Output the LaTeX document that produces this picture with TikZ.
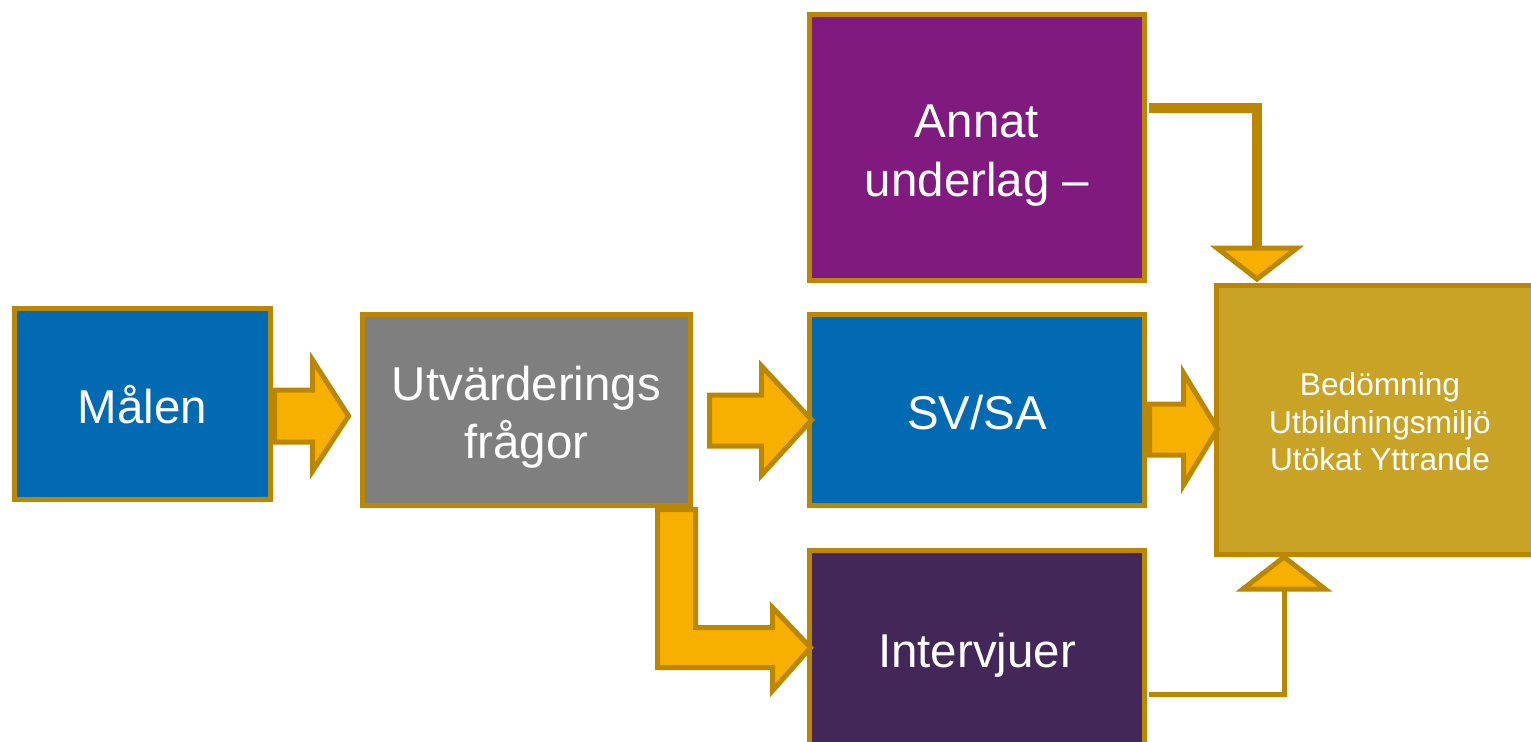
\documentclass[tikz,border=0pt]{standalone}
\usepackage{fontspec}
\setmainfont{Liberation Sans}
\usetikzlibrary{calc}
\definecolor{bord}{RGB}{187,135,0}
\definecolor{arrfill}{RGB}{248,176,0}
\definecolor{cblue}{RGB}{2,106,179}
\definecolor{cgray}{RGB}{127,127,127}
\definecolor{cpurple}{RGB}{128,26,126}
\definecolor{cdark}{RGB}{68,39,89}
\definecolor{cgold}{RGB}{201,163,38}
\begin{document}
\begin{tikzpicture}[x=0.01cm,y=-0.01cm,
  box/.style={draw=bord,line width=1.42pt,inner sep=0pt},
  boxtext/.style={text=white,align=center,inner sep=0pt,
    font=\fontsize{13.5}{16.6}\selectfont},
  smalltext/.style={text=white,align=center,inner sep=0pt,
    font=\fontsize{9}{10.7}\selectfont},
  bigarrow/.style={draw=bord,fill=arrfill,line width=1.42pt,line join=miter},
  link/.style={draw=bord,line join=miter}]
\useasboundingbox (0,0) rectangle (1531,741);
\clip (0,0) rectangle (1531,741);
\fill[white] (0,0) rectangle (1531,741);

\node[box,fill=cblue,minimum width=2.56cm,minimum height=1.91cm] (malen) at (142.5,404) {};
\node[box,fill=cgray,minimum width=3.28cm,minimum height=1.91cm] (utv) at (526.5,410) {};
\node[box,fill=cpurple,minimum width=3.35cm,minimum height=2.66cm] (annat) at (977,147.5) {};
\node[box,fill=cblue,minimum width=3.35cm,minimum height=1.91cm] (svsa) at (977,410) {};
\node[box,fill=cdark,minimum width=3.35cm,minimum height=1.95cm] (interv) at (977,648) {};
\node[box,fill=cgold,minimum width=3.235cm,minimum height=2.69cm] (bed) at (1378,420) {};

\node[boxtext] (malenT) at ($(malen.center)+(0,1)$) {Målen};
\node[boxtext] (utvT) at ($(utv.center)+(0,7)$) {Utvärderings\\frågor};
\node[boxtext] (annatT) at ($(annat.center)+(0,8)$) {Annat\\underlag –};
\node[boxtext] (svsaT) at ($(svsa.center)+(0,3)$) {SV/SA};
\node[boxtext] (intervT) at ($(interv.center)+(0,7)$) {Intervjuer};
\node[smalltext] (bedT) at ($(bed.center)+(2,2)$) {Bedömning\\Utbildningsmiljö\\Utökat Yttrande};

% Målen -> Utvärderingsfrågor
\draw[bigarrow] ($(malen.east)+(1.5,-14)$) -- ++(38,0) -- ++(0,-30) -- ++(36,56)
  -- ++(-36,55) -- ++(0,-29) -- ++(-38,0) -- cycle;
% Utvärderingsfrågor -> SV/SA
\draw[bigarrow] ($(utv.east)+(16.5,-15)$) -- ++(52,0) -- ++(0,-29) -- ++(50,54)
  -- ++(-50,55) -- ++(0,-29) -- ++(-52,0) -- cycle;
% SV/SA -> Bedömning
\draw[bigarrow] ($(svsa.east)+(2.5,-6)$) -- ++(34,0) -- ++(0,-31) -- ++(34,56)
  -- ++(-34,56) -- ++(0,-30) -- ++(-34,0) -- cycle;
% Utvärderingsfrågor -> Intervjuer (bent)
\draw[bigarrow] ($(utv.south east)+(-35.5,1.5)$) -- ++(38,0) -- ++(0,118) -- ++(77,0)
  -- ++(0,-20) -- ++(38,40) -- ++(-38,43) -- ++(0,-23) -- ++(-115,0) -- cycle;

% Annat underlag -> Bedömning
\coordinate (ta) at (1257,248);
\draw[link,line width=2.7pt] ($(annat.east)+(2,-39.5)$) -| (ta);
\draw[bigarrow] (ta) ++(-40,0) -- ++(80,0) -- ++(-40,31) -- cycle;

% Intervjuer -> Bedömning
\coordinate (tb) at (1284,589);
\draw[link,line width=1.42pt] ($(interv.east)+(2,46)$) -| (tb);
\draw[bigarrow] (tb) ++(-41,0) -- ++(82,0) -- ++(-41,-32) -- cycle;
\end{tikzpicture}
\end{document}
